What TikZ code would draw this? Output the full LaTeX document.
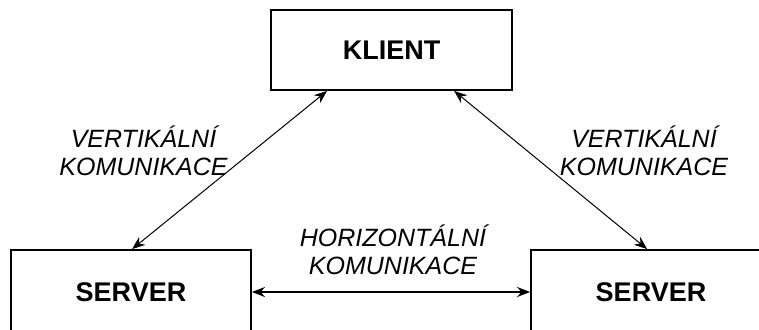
\documentclass[tikz,border=0pt]{standalone}
\usepackage{fontspec}
\setmainfont{Liberation Sans}
\usetikzlibrary{arrows.meta,calc}
\begin{document}
\begin{tikzpicture}[x=1pt,y=-1pt,
  box/.style={draw,line width=1.8pt,minimum width=240pt,inner sep=0pt,font=\fontsize{27}{30}\selectfont\bfseries},
  lbl/.style={align=center,inner sep=0pt,font=\fontsize{25}{28}\selectfont\itshape},
  tip/.tip={Stealth[length=13pt,width=10pt]},
  varrow/.style={tip-tip,line width=1pt},
  harrow/.style={tip-tip,line width=2pt}]
\useasboundingbox (0,0) rectangle (759,329);
\clip (0,0) rectangle (759,329);
\node[box,minimum height=80pt,minimum width=241pt] (k) at (391.5,50) {KLIENT};
\node[box,minimum height=84pt] (s1) at (131,292) {SERVER};
\node[box,minimum height=84pt] (s2) at (651,292) {SERVER};
\coordinate (k1) at ($(k.south west)+(57,0)$);
\coordinate (k2) at ($(k.south west)+(184,0)$);
\coordinate (s1t) at ($(s1.north west)+(122,0)$);
\coordinate (s2t) at ($(s2.north west)+(117,0)$);
\draw[varrow] (k1) -- (s1t);
\draw[varrow] (k2) -- (s2t);
\draw[harrow] (s1.east) -- (s2.west);
\node[lbl] (l1) at (143.5,151) {VERTIK\'ALN\'I\\KOMUNIKACE};
\node[lbl] (l2) at (644,151) {VERTIK\'ALN\'I\\KOMUNIKACE};
\node[lbl] (l3) at (393,250) {HORIZONT\'ALN\'I\\KOMUNIKACE};
\end{tikzpicture}
\end{document}
